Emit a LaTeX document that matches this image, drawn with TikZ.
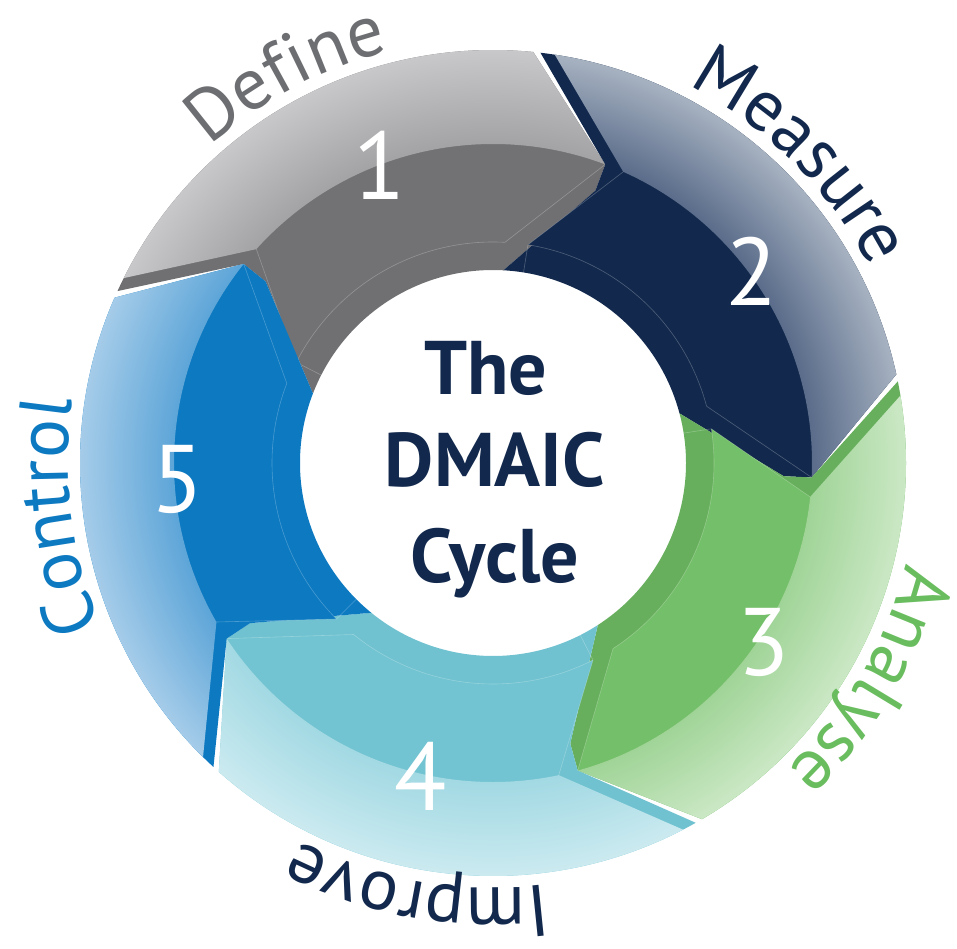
\documentclass[tikz,border=0pt]{standalone}
\usepackage{fontspec}
\setmainfont{PT Sans}
\usetikzlibrary{decorations.text}

\definecolor{dfnSide}{HTML}{707072}
\definecolor{dfnDark}{HTML}{727274}
\definecolor{dfnIn}{HTML}{A3A3A5}
\definecolor{dfnOut}{HTML}{C8C8CA}
\definecolor{dfnText}{HTML}{6D6E71}
\definecolor{msrSide}{HTML}{12294D}
\definecolor{msrDark}{HTML}{12294D}
\definecolor{msrIn}{HTML}{5A6C8A}
\definecolor{msrOut}{HTML}{A7B2C1}
\definecolor{anlSide}{HTML}{67AF5D}
\definecolor{anlDark}{HTML}{74BF69}
\definecolor{anlIn}{HTML}{A0D497}
\definecolor{anlOut}{HTML}{CBE8C5}
\definecolor{anlText}{HTML}{6ABD5F}
\definecolor{impSide}{HTML}{70C2D0}
\definecolor{impDark}{HTML}{72C4D2}
\definecolor{impIn}{HTML}{A2D9E3}
\definecolor{impOut}{HTML}{CBEAF0}
\definecolor{ctlSide}{HTML}{0C79C1}
\definecolor{ctlDark}{HTML}{0C79C1}
\definecolor{ctlIn}{HTML}{5DA5D8}
\definecolor{ctlOut}{HTML}{A5CCE9}
\definecolor{navyText}{HTML}{12294D}

\pgfdeclareradialshading{dfnBand}{\pgfpoint{0bp}{0bp}}{color(0bp)=(dfnIn); color(19.3bp)=(dfnIn); color(25bp)=(dfnOut); color(50bp)=(dfnOut)}
\pgfdeclareradialshading{msrBand}{\pgfpoint{0bp}{0bp}}{color(0bp)=(msrIn); color(19.3bp)=(msrIn); color(25bp)=(msrOut); color(50bp)=(msrOut)}
\pgfdeclareradialshading{anlBand}{\pgfpoint{0bp}{0bp}}{color(0bp)=(anlIn); color(19.3bp)=(anlIn); color(25bp)=(anlOut); color(50bp)=(anlOut)}
\pgfdeclareradialshading{impBand}{\pgfpoint{0bp}{0bp}}{color(0bp)=(impIn); color(19.3bp)=(impIn); color(25bp)=(impOut); color(50bp)=(impOut)}
\pgfdeclareradialshading{ctlBand}{\pgfpoint{0bp}{0bp}}{color(0bp)=(ctlIn); color(19.3bp)=(ctlIn); color(25bp)=(ctlOut); color(50bp)=(ctlOut)}

\begin{document}
\begin{tikzpicture}[
    numtext/.style={text=white, font=\fontsize{96bp}{96bp}\selectfont, inner sep=0pt},
    titletext/.style={text=navyText, font=\bfseries\fontsize{76bp}{90bp}\selectfont, anchor=base, inner sep=0pt},
    phase/.style 2 args={decorate, decoration={text along path, text align=center,
        text={|\fontsize{73bp}{80bp}\selectfont\color{#1}|#2}}}
  ]
  \def\rIn{193bp}\def\rFace{221bp}\def\rKnee{291bp}\def\rMid{319bp}\def\rOut{413bp}\def\rTxt{425bp}
  \useasboundingbox (-493bp,-486bp) rectangle (464bp,463bp);
  \foreach \ta/\sg in {141.4/dfn,69.4/msr,-2.6/anl,-74.6/imp,-146.6/ctl}{
    \pgfmathsetmacro\tb{\ta-72}
    \fill[fill=\sg Side] ({\ta+14}:\rOut) -- (\ta:\rMid) -- (\ta:\rKnee) -- ({\ta+17.5}:\rIn)
      arc[start angle=\ta+17.5, end angle=\tb+17.5, radius=\rIn]
      -- (\tb:\rKnee) -- (\tb:\rMid) -- ({\tb+15}:\rOut)
      arc[start angle=\tb+15, end angle=\ta+14, radius=\rOut] -- cycle;
    \fill[fill=\sg Dark] ({\ta-3.5}:\rMid) -- ({\ta+11.5}:\rFace)
      arc[start angle=\ta+11.5, end angle=\tb+17.5, radius=\rFace]
      -- (\tb:\rMid) arc[start angle=\tb, end angle=\ta-3.5, radius=\rMid] -- cycle;
    \begin{scope}
      \clip ({\ta+12}:\rOut) arc[start angle=\ta+12, end angle=\tb+15, radius=\rOut]
        -- (\tb:\rMid) arc[start angle=\tb, end angle=\ta-3.5, radius=\rMid] -- cycle;
      \shade[shading=\sg Band] (0,0) circle[radius=\rOut];
    \end{scope}
    \draw[white, opacity=.25, line width=.6bp] ({\ta-3.5}:\rMid) -- ({\ta+11.5}:\rFace) -- ({\ta+11.5}:\rIn)
      ({\ta+11.5}:\rFace) arc[start angle=\ta+11.5, end angle=\tb+17.5, radius=\rFace] -- (\tb:\rMid);
  }
  \node[numtext] (num1) at (110.8:318bp) {1};
  \node[numtext] (num2) at (36.5:322bp) {2};
  \node[numtext] (num3) at (-33.6:325bp) {3};
  \node[numtext] (num4) at (-102.9:322bp) {4};
  \node[numtext] (num5) at (-177.1:316bp) {5};
  \node[titletext] (title1) at (-7bp,68bp) {The};
  \node[titletext] (title2) at (2bp,-23bp) {DMAIC};
  \node[titletext] (title3) at (2bp,-119bp) {Cycle};
  \path[phase={dfnText}{Define}] (150:\rTxt) arc[start angle=150, end angle=86, radius=\rTxt];
  \path[phase={navyText}{Measure}] (80:\rTxt) arc[start angle=80, end angle=10, radius=\rTxt];
  \path[phase={anlText}{Analyse}] (5:\rTxt) arc[start angle=5, end angle=-65, radius=\rTxt];
  \path[phase={navyText}{Improve}] (-65:\rTxt) arc[start angle=-65, end angle=-135, radius=\rTxt];
  \path[phase={ctlDark}{Control}] (222:\rTxt) arc[start angle=222, end angle=152, radius=\rTxt];
\end{tikzpicture}
\end{document}
